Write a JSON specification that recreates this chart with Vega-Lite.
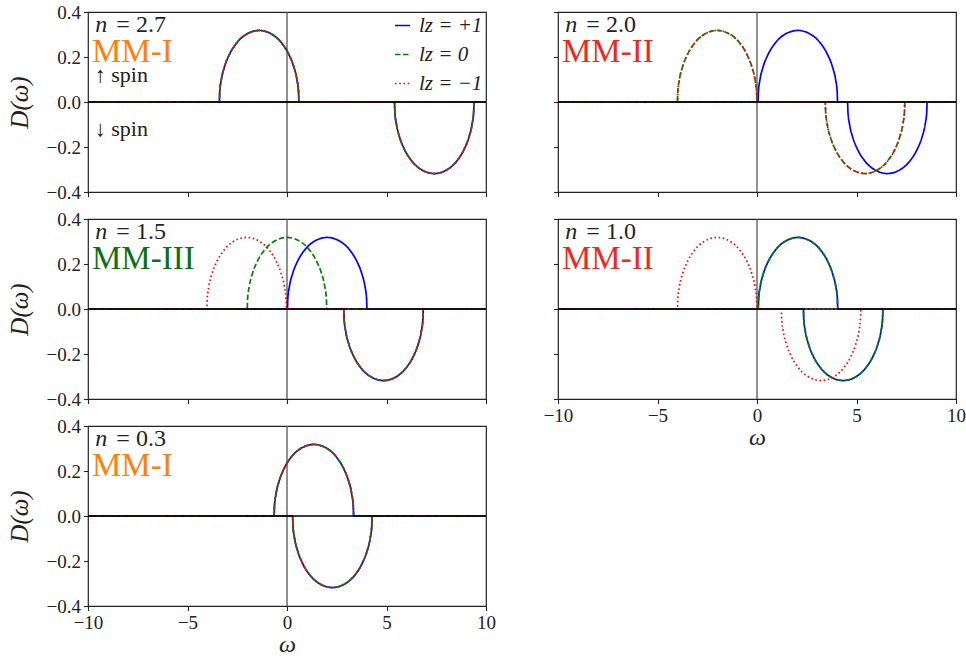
{
  "$schema": "https://vega.github.io/schema/vega-lite/v6.json",
  "background": "white",
  "padding": {"left": 6, "top": 2, "right": 2, "bottom": 0},
  "config": {
    "font": "Liberation Serif",
    "view": {"stroke": "#222222", "strokeWidth": 1.2},
    "axis": {
      "domain": false, "grid": false,
      "tickColor": "#222222", "tickSize": 4.5, "tickWidth": 1.1,
      "labelFont": "Liberation Serif", "labelFontSize": 19, "labelColor": "#222222", "labelPadding": 3,
      "titleFont": "Liberation Serif", "titleFontSize": 25, "titleFontWeight": "normal", "titleFontStyle": "italic", "titleColor": "#222222"
    },
    "axisX": {"titlePadding": 0, "titleFontSize": 24, "labelFlush": false, "labelOverlap": false},
    "axisY": {"titlePadding": 14, "labelOverlap": false}
  },
  "datasets": {
    "notes": [
      {"p": 1, "eq": "= 2.7", "phase": "MM-I"},
      {"p": 2, "eq": "= 2.0", "phase": "MM-II"},
      {"p": 3, "eq": "= 1.5", "phase": "MM-III"},
      {"p": 4, "eq": "= 1.0", "phase": "MM-II"},
      {"p": 5, "eq": "= 0.3", "phase": "MM-I"}
    ],
    "curves": [
      {"p":1,"lz":"+1","s":"u","x":-10,"y":0},{"p":1,"lz":"+1","s":"u","x":-3.4,"y":0},{"p":1,"lz":"+1","s":"u","x":-3.38,"y":0.0449},{"p":1,"lz":"+1","s":"u","x":-3.3,"y":0.0993},{"p":1,"lz":"+1","s":"u","x":-3.14,"y":0.1568},{"p":1,"lz":"+1","s":"u","x":-2.9,"y":0.2103},{"p":1,"lz":"+1","s":"u","x":-2.56,"y":0.2591},{"p":1,"lz":"+1","s":"u","x":-2.12,"y":0.2967},{"p":1,"lz":"+1","s":"u","x":-1.4,"y":0.318},{"p":1,"lz":"+1","s":"u","x":-0.68,"y":0.2967},{"p":1,"lz":"+1","s":"u","x":-0.24,"y":0.2591},{"p":1,"lz":"+1","s":"u","x":0.1,"y":0.2103},{"p":1,"lz":"+1","s":"u","x":0.34,"y":0.1568},{"p":1,"lz":"+1","s":"u","x":0.5,"y":0.0993},{"p":1,"lz":"+1","s":"u","x":0.58,"y":0.0449},{"p":1,"lz":"+1","s":"u","x":0.6,"y":0},{"p":1,"lz":"+1","s":"u","x":10,"y":0},
      {"p":1,"lz":"+1","s":"d","x":-10,"y":0},{"p":1,"lz":"+1","s":"d","x":5.4,"y":0},{"p":1,"lz":"+1","s":"d","x":5.42,"y":-0.0449},{"p":1,"lz":"+1","s":"d","x":5.5,"y":-0.0993},{"p":1,"lz":"+1","s":"d","x":5.66,"y":-0.1568},{"p":1,"lz":"+1","s":"d","x":5.9,"y":-0.2103},{"p":1,"lz":"+1","s":"d","x":6.24,"y":-0.2591},{"p":1,"lz":"+1","s":"d","x":6.68,"y":-0.2967},{"p":1,"lz":"+1","s":"d","x":7.4,"y":-0.318},{"p":1,"lz":"+1","s":"d","x":8.12,"y":-0.2967},{"p":1,"lz":"+1","s":"d","x":8.56,"y":-0.2591},{"p":1,"lz":"+1","s":"d","x":8.9,"y":-0.2103},{"p":1,"lz":"+1","s":"d","x":9.14,"y":-0.1568},{"p":1,"lz":"+1","s":"d","x":9.3,"y":-0.0993},{"p":1,"lz":"+1","s":"d","x":9.38,"y":-0.0449},{"p":1,"lz":"+1","s":"d","x":9.4,"y":0},{"p":1,"lz":"+1","s":"d","x":10,"y":0},
      {"p":1,"lz":"0","s":"u","x":-10,"y":0},{"p":1,"lz":"0","s":"u","x":-3.4,"y":0},{"p":1,"lz":"0","s":"u","x":-3.38,"y":0.0449},{"p":1,"lz":"0","s":"u","x":-3.3,"y":0.0993},{"p":1,"lz":"0","s":"u","x":-3.14,"y":0.1568},{"p":1,"lz":"0","s":"u","x":-2.9,"y":0.2103},{"p":1,"lz":"0","s":"u","x":-2.56,"y":0.2591},{"p":1,"lz":"0","s":"u","x":-2.12,"y":0.2967},{"p":1,"lz":"0","s":"u","x":-1.4,"y":0.318},{"p":1,"lz":"0","s":"u","x":-0.68,"y":0.2967},{"p":1,"lz":"0","s":"u","x":-0.24,"y":0.2591},{"p":1,"lz":"0","s":"u","x":0.1,"y":0.2103},{"p":1,"lz":"0","s":"u","x":0.34,"y":0.1568},{"p":1,"lz":"0","s":"u","x":0.5,"y":0.0993},{"p":1,"lz":"0","s":"u","x":0.58,"y":0.0449},{"p":1,"lz":"0","s":"u","x":0.6,"y":0},{"p":1,"lz":"0","s":"u","x":10,"y":0},
      {"p":1,"lz":"0","s":"d","x":-10,"y":0},{"p":1,"lz":"0","s":"d","x":5.4,"y":0},{"p":1,"lz":"0","s":"d","x":5.42,"y":-0.0449},{"p":1,"lz":"0","s":"d","x":5.5,"y":-0.0993},{"p":1,"lz":"0","s":"d","x":5.66,"y":-0.1568},{"p":1,"lz":"0","s":"d","x":5.9,"y":-0.2103},{"p":1,"lz":"0","s":"d","x":6.24,"y":-0.2591},{"p":1,"lz":"0","s":"d","x":6.68,"y":-0.2967},{"p":1,"lz":"0","s":"d","x":7.4,"y":-0.318},{"p":1,"lz":"0","s":"d","x":8.12,"y":-0.2967},{"p":1,"lz":"0","s":"d","x":8.56,"y":-0.2591},{"p":1,"lz":"0","s":"d","x":8.9,"y":-0.2103},{"p":1,"lz":"0","s":"d","x":9.14,"y":-0.1568},{"p":1,"lz":"0","s":"d","x":9.3,"y":-0.0993},{"p":1,"lz":"0","s":"d","x":9.38,"y":-0.0449},{"p":1,"lz":"0","s":"d","x":9.4,"y":0},{"p":1,"lz":"0","s":"d","x":10,"y":0},
      {"p":1,"lz":"−1","s":"u","x":-10,"y":0},{"p":1,"lz":"−1","s":"u","x":-3.4,"y":0},{"p":1,"lz":"−1","s":"u","x":-3.38,"y":0.0449},{"p":1,"lz":"−1","s":"u","x":-3.3,"y":0.0993},{"p":1,"lz":"−1","s":"u","x":-3.14,"y":0.1568},{"p":1,"lz":"−1","s":"u","x":-2.9,"y":0.2103},{"p":1,"lz":"−1","s":"u","x":-2.56,"y":0.2591},{"p":1,"lz":"−1","s":"u","x":-2.12,"y":0.2967},{"p":1,"lz":"−1","s":"u","x":-1.4,"y":0.318},{"p":1,"lz":"−1","s":"u","x":-0.68,"y":0.2967},{"p":1,"lz":"−1","s":"u","x":-0.24,"y":0.2591},{"p":1,"lz":"−1","s":"u","x":0.1,"y":0.2103},{"p":1,"lz":"−1","s":"u","x":0.34,"y":0.1568},{"p":1,"lz":"−1","s":"u","x":0.5,"y":0.0993},{"p":1,"lz":"−1","s":"u","x":0.58,"y":0.0449},{"p":1,"lz":"−1","s":"u","x":0.6,"y":0},{"p":1,"lz":"−1","s":"u","x":10,"y":0},
      {"p":1,"lz":"−1","s":"d","x":-10,"y":0},{"p":1,"lz":"−1","s":"d","x":5.4,"y":0},{"p":1,"lz":"−1","s":"d","x":5.42,"y":-0.0449},{"p":1,"lz":"−1","s":"d","x":5.5,"y":-0.0993},{"p":1,"lz":"−1","s":"d","x":5.66,"y":-0.1568},{"p":1,"lz":"−1","s":"d","x":5.9,"y":-0.2103},{"p":1,"lz":"−1","s":"d","x":6.24,"y":-0.2591},{"p":1,"lz":"−1","s":"d","x":6.68,"y":-0.2967},{"p":1,"lz":"−1","s":"d","x":7.4,"y":-0.318},{"p":1,"lz":"−1","s":"d","x":8.12,"y":-0.2967},{"p":1,"lz":"−1","s":"d","x":8.56,"y":-0.2591},{"p":1,"lz":"−1","s":"d","x":8.9,"y":-0.2103},{"p":1,"lz":"−1","s":"d","x":9.14,"y":-0.1568},{"p":1,"lz":"−1","s":"d","x":9.3,"y":-0.0993},{"p":1,"lz":"−1","s":"d","x":9.38,"y":-0.0449},{"p":1,"lz":"−1","s":"d","x":9.4,"y":0},{"p":1,"lz":"−1","s":"d","x":10,"y":0},

      {"p":2,"lz":"+1","s":"u","x":-10,"y":0},{"p":2,"lz":"+1","s":"u","x":0.05,"y":0},{"p":2,"lz":"+1","s":"u","x":0.07,"y":0.0449},{"p":2,"lz":"+1","s":"u","x":0.15,"y":0.0993},{"p":2,"lz":"+1","s":"u","x":0.31,"y":0.1568},{"p":2,"lz":"+1","s":"u","x":0.55,"y":0.2103},{"p":2,"lz":"+1","s":"u","x":0.89,"y":0.2591},{"p":2,"lz":"+1","s":"u","x":1.33,"y":0.2967},{"p":2,"lz":"+1","s":"u","x":2.05,"y":0.318},{"p":2,"lz":"+1","s":"u","x":2.77,"y":0.2967},{"p":2,"lz":"+1","s":"u","x":3.21,"y":0.2591},{"p":2,"lz":"+1","s":"u","x":3.55,"y":0.2103},{"p":2,"lz":"+1","s":"u","x":3.79,"y":0.1568},{"p":2,"lz":"+1","s":"u","x":3.95,"y":0.0993},{"p":2,"lz":"+1","s":"u","x":4.03,"y":0.0449},{"p":2,"lz":"+1","s":"u","x":4.05,"y":0},{"p":2,"lz":"+1","s":"u","x":10,"y":0},
      {"p":2,"lz":"+1","s":"d","x":-10,"y":0},{"p":2,"lz":"+1","s":"d","x":4.55,"y":0},{"p":2,"lz":"+1","s":"d","x":4.57,"y":-0.0449},{"p":2,"lz":"+1","s":"d","x":4.65,"y":-0.0993},{"p":2,"lz":"+1","s":"d","x":4.81,"y":-0.1568},{"p":2,"lz":"+1","s":"d","x":5.05,"y":-0.2103},{"p":2,"lz":"+1","s":"d","x":5.39,"y":-0.2591},{"p":2,"lz":"+1","s":"d","x":5.83,"y":-0.2967},{"p":2,"lz":"+1","s":"d","x":6.55,"y":-0.318},{"p":2,"lz":"+1","s":"d","x":7.27,"y":-0.2967},{"p":2,"lz":"+1","s":"d","x":7.71,"y":-0.2591},{"p":2,"lz":"+1","s":"d","x":8.05,"y":-0.2103},{"p":2,"lz":"+1","s":"d","x":8.29,"y":-0.1568},{"p":2,"lz":"+1","s":"d","x":8.45,"y":-0.0993},{"p":2,"lz":"+1","s":"d","x":8.53,"y":-0.0449},{"p":2,"lz":"+1","s":"d","x":8.55,"y":0},{"p":2,"lz":"+1","s":"d","x":10,"y":0},
      {"p":2,"lz":"0","s":"u","x":-10,"y":0},{"p":2,"lz":"0","s":"u","x":-4,"y":0},{"p":2,"lz":"0","s":"u","x":-3.98,"y":0.0449},{"p":2,"lz":"0","s":"u","x":-3.9,"y":0.0993},{"p":2,"lz":"0","s":"u","x":-3.74,"y":0.1568},{"p":2,"lz":"0","s":"u","x":-3.5,"y":0.2103},{"p":2,"lz":"0","s":"u","x":-3.16,"y":0.2591},{"p":2,"lz":"0","s":"u","x":-2.72,"y":0.2967},{"p":2,"lz":"0","s":"u","x":-2,"y":0.318},{"p":2,"lz":"0","s":"u","x":-1.28,"y":0.2967},{"p":2,"lz":"0","s":"u","x":-0.84,"y":0.2591},{"p":2,"lz":"0","s":"u","x":-0.5,"y":0.2103},{"p":2,"lz":"0","s":"u","x":-0.26,"y":0.1568},{"p":2,"lz":"0","s":"u","x":-0.1,"y":0.0993},{"p":2,"lz":"0","s":"u","x":-0.02,"y":0.0449},{"p":2,"lz":"0","s":"u","x":0,"y":0},{"p":2,"lz":"0","s":"u","x":10,"y":0},
      {"p":2,"lz":"0","s":"d","x":-10,"y":0},{"p":2,"lz":"0","s":"d","x":3.43,"y":0},{"p":2,"lz":"0","s":"d","x":3.45,"y":-0.0449},{"p":2,"lz":"0","s":"d","x":3.53,"y":-0.0993},{"p":2,"lz":"0","s":"d","x":3.69,"y":-0.1568},{"p":2,"lz":"0","s":"d","x":3.93,"y":-0.2103},{"p":2,"lz":"0","s":"d","x":4.27,"y":-0.2591},{"p":2,"lz":"0","s":"d","x":4.71,"y":-0.2967},{"p":2,"lz":"0","s":"d","x":5.43,"y":-0.318},{"p":2,"lz":"0","s":"d","x":6.15,"y":-0.2967},{"p":2,"lz":"0","s":"d","x":6.59,"y":-0.2591},{"p":2,"lz":"0","s":"d","x":6.93,"y":-0.2103},{"p":2,"lz":"0","s":"d","x":7.17,"y":-0.1568},{"p":2,"lz":"0","s":"d","x":7.33,"y":-0.0993},{"p":2,"lz":"0","s":"d","x":7.41,"y":-0.0449},{"p":2,"lz":"0","s":"d","x":7.43,"y":0},{"p":2,"lz":"0","s":"d","x":10,"y":0},
      {"p":2,"lz":"−1","s":"u","x":-10,"y":0},{"p":2,"lz":"−1","s":"u","x":-4,"y":0},{"p":2,"lz":"−1","s":"u","x":-3.98,"y":0.0449},{"p":2,"lz":"−1","s":"u","x":-3.9,"y":0.0993},{"p":2,"lz":"−1","s":"u","x":-3.74,"y":0.1568},{"p":2,"lz":"−1","s":"u","x":-3.5,"y":0.2103},{"p":2,"lz":"−1","s":"u","x":-3.16,"y":0.2591},{"p":2,"lz":"−1","s":"u","x":-2.72,"y":0.2967},{"p":2,"lz":"−1","s":"u","x":-2,"y":0.318},{"p":2,"lz":"−1","s":"u","x":-1.28,"y":0.2967},{"p":2,"lz":"−1","s":"u","x":-0.84,"y":0.2591},{"p":2,"lz":"−1","s":"u","x":-0.5,"y":0.2103},{"p":2,"lz":"−1","s":"u","x":-0.26,"y":0.1568},{"p":2,"lz":"−1","s":"u","x":-0.1,"y":0.0993},{"p":2,"lz":"−1","s":"u","x":-0.02,"y":0.0449},{"p":2,"lz":"−1","s":"u","x":0,"y":0},{"p":2,"lz":"−1","s":"u","x":10,"y":0},
      {"p":2,"lz":"−1","s":"d","x":-10,"y":0},{"p":2,"lz":"−1","s":"d","x":3.43,"y":0},{"p":2,"lz":"−1","s":"d","x":3.45,"y":-0.0449},{"p":2,"lz":"−1","s":"d","x":3.53,"y":-0.0993},{"p":2,"lz":"−1","s":"d","x":3.69,"y":-0.1568},{"p":2,"lz":"−1","s":"d","x":3.93,"y":-0.2103},{"p":2,"lz":"−1","s":"d","x":4.27,"y":-0.2591},{"p":2,"lz":"−1","s":"d","x":4.71,"y":-0.2967},{"p":2,"lz":"−1","s":"d","x":5.43,"y":-0.318},{"p":2,"lz":"−1","s":"d","x":6.15,"y":-0.2967},{"p":2,"lz":"−1","s":"d","x":6.59,"y":-0.2591},{"p":2,"lz":"−1","s":"d","x":6.93,"y":-0.2103},{"p":2,"lz":"−1","s":"d","x":7.17,"y":-0.1568},{"p":2,"lz":"−1","s":"d","x":7.33,"y":-0.0993},{"p":2,"lz":"−1","s":"d","x":7.41,"y":-0.0449},{"p":2,"lz":"−1","s":"d","x":7.43,"y":0},{"p":2,"lz":"−1","s":"d","x":10,"y":0},

      {"p":3,"lz":"+1","s":"u","x":-10,"y":0},{"p":3,"lz":"+1","s":"u","x":0.02,"y":0},{"p":3,"lz":"+1","s":"u","x":0.04,"y":0.0449},{"p":3,"lz":"+1","s":"u","x":0.12,"y":0.0993},{"p":3,"lz":"+1","s":"u","x":0.28,"y":0.1568},{"p":3,"lz":"+1","s":"u","x":0.52,"y":0.2103},{"p":3,"lz":"+1","s":"u","x":0.86,"y":0.2591},{"p":3,"lz":"+1","s":"u","x":1.3,"y":0.2967},{"p":3,"lz":"+1","s":"u","x":2.02,"y":0.318},{"p":3,"lz":"+1","s":"u","x":2.74,"y":0.2967},{"p":3,"lz":"+1","s":"u","x":3.18,"y":0.2591},{"p":3,"lz":"+1","s":"u","x":3.52,"y":0.2103},{"p":3,"lz":"+1","s":"u","x":3.76,"y":0.1568},{"p":3,"lz":"+1","s":"u","x":3.92,"y":0.0993},{"p":3,"lz":"+1","s":"u","x":4,"y":0.0449},{"p":3,"lz":"+1","s":"u","x":4.02,"y":0},{"p":3,"lz":"+1","s":"u","x":10,"y":0},
      {"p":3,"lz":"+1","s":"d","x":-10,"y":0},{"p":3,"lz":"+1","s":"d","x":2.85,"y":0},{"p":3,"lz":"+1","s":"d","x":2.87,"y":-0.0449},{"p":3,"lz":"+1","s":"d","x":2.95,"y":-0.0993},{"p":3,"lz":"+1","s":"d","x":3.11,"y":-0.1568},{"p":3,"lz":"+1","s":"d","x":3.35,"y":-0.2103},{"p":3,"lz":"+1","s":"d","x":3.69,"y":-0.2591},{"p":3,"lz":"+1","s":"d","x":4.13,"y":-0.2967},{"p":3,"lz":"+1","s":"d","x":4.85,"y":-0.318},{"p":3,"lz":"+1","s":"d","x":5.57,"y":-0.2967},{"p":3,"lz":"+1","s":"d","x":6.01,"y":-0.2591},{"p":3,"lz":"+1","s":"d","x":6.35,"y":-0.2103},{"p":3,"lz":"+1","s":"d","x":6.59,"y":-0.1568},{"p":3,"lz":"+1","s":"d","x":6.75,"y":-0.0993},{"p":3,"lz":"+1","s":"d","x":6.83,"y":-0.0449},{"p":3,"lz":"+1","s":"d","x":6.85,"y":0},{"p":3,"lz":"+1","s":"d","x":10,"y":0},
      {"p":3,"lz":"0","s":"u","x":-10,"y":0},{"p":3,"lz":"0","s":"u","x":-2,"y":0},{"p":3,"lz":"0","s":"u","x":-1.98,"y":0.0449},{"p":3,"lz":"0","s":"u","x":-1.9,"y":0.0993},{"p":3,"lz":"0","s":"u","x":-1.74,"y":0.1568},{"p":3,"lz":"0","s":"u","x":-1.5,"y":0.2103},{"p":3,"lz":"0","s":"u","x":-1.16,"y":0.2591},{"p":3,"lz":"0","s":"u","x":-0.72,"y":0.2967},{"p":3,"lz":"0","s":"u","x":0,"y":0.318},{"p":3,"lz":"0","s":"u","x":0.72,"y":0.2967},{"p":3,"lz":"0","s":"u","x":1.16,"y":0.2591},{"p":3,"lz":"0","s":"u","x":1.5,"y":0.2103},{"p":3,"lz":"0","s":"u","x":1.74,"y":0.1568},{"p":3,"lz":"0","s":"u","x":1.9,"y":0.0993},{"p":3,"lz":"0","s":"u","x":1.98,"y":0.0449},{"p":3,"lz":"0","s":"u","x":2,"y":0},{"p":3,"lz":"0","s":"u","x":10,"y":0},
      {"p":3,"lz":"0","s":"d","x":-10,"y":0},{"p":3,"lz":"0","s":"d","x":2.85,"y":0},{"p":3,"lz":"0","s":"d","x":2.87,"y":-0.0449},{"p":3,"lz":"0","s":"d","x":2.95,"y":-0.0993},{"p":3,"lz":"0","s":"d","x":3.11,"y":-0.1568},{"p":3,"lz":"0","s":"d","x":3.35,"y":-0.2103},{"p":3,"lz":"0","s":"d","x":3.69,"y":-0.2591},{"p":3,"lz":"0","s":"d","x":4.13,"y":-0.2967},{"p":3,"lz":"0","s":"d","x":4.85,"y":-0.318},{"p":3,"lz":"0","s":"d","x":5.57,"y":-0.2967},{"p":3,"lz":"0","s":"d","x":6.01,"y":-0.2591},{"p":3,"lz":"0","s":"d","x":6.35,"y":-0.2103},{"p":3,"lz":"0","s":"d","x":6.59,"y":-0.1568},{"p":3,"lz":"0","s":"d","x":6.75,"y":-0.0993},{"p":3,"lz":"0","s":"d","x":6.83,"y":-0.0449},{"p":3,"lz":"0","s":"d","x":6.85,"y":0},{"p":3,"lz":"0","s":"d","x":10,"y":0},
      {"p":3,"lz":"−1","s":"u","x":-10,"y":0},{"p":3,"lz":"−1","s":"u","x":-4.03,"y":0},{"p":3,"lz":"−1","s":"u","x":-4.01,"y":0.0449},{"p":3,"lz":"−1","s":"u","x":-3.93,"y":0.0993},{"p":3,"lz":"−1","s":"u","x":-3.77,"y":0.1568},{"p":3,"lz":"−1","s":"u","x":-3.53,"y":0.2103},{"p":3,"lz":"−1","s":"u","x":-3.19,"y":0.2591},{"p":3,"lz":"−1","s":"u","x":-2.75,"y":0.2967},{"p":3,"lz":"−1","s":"u","x":-2.03,"y":0.318},{"p":3,"lz":"−1","s":"u","x":-1.31,"y":0.2967},{"p":3,"lz":"−1","s":"u","x":-0.87,"y":0.2591},{"p":3,"lz":"−1","s":"u","x":-0.53,"y":0.2103},{"p":3,"lz":"−1","s":"u","x":-0.29,"y":0.1568},{"p":3,"lz":"−1","s":"u","x":-0.13,"y":0.0993},{"p":3,"lz":"−1","s":"u","x":-0.05,"y":0.0449},{"p":3,"lz":"−1","s":"u","x":-0.03,"y":0},{"p":3,"lz":"−1","s":"u","x":10,"y":0},
      {"p":3,"lz":"−1","s":"d","x":-10,"y":0},{"p":3,"lz":"−1","s":"d","x":2.85,"y":0},{"p":3,"lz":"−1","s":"d","x":2.87,"y":-0.0449},{"p":3,"lz":"−1","s":"d","x":2.95,"y":-0.0993},{"p":3,"lz":"−1","s":"d","x":3.11,"y":-0.1568},{"p":3,"lz":"−1","s":"d","x":3.35,"y":-0.2103},{"p":3,"lz":"−1","s":"d","x":3.69,"y":-0.2591},{"p":3,"lz":"−1","s":"d","x":4.13,"y":-0.2967},{"p":3,"lz":"−1","s":"d","x":4.85,"y":-0.318},{"p":3,"lz":"−1","s":"d","x":5.57,"y":-0.2967},{"p":3,"lz":"−1","s":"d","x":6.01,"y":-0.2591},{"p":3,"lz":"−1","s":"d","x":6.35,"y":-0.2103},{"p":3,"lz":"−1","s":"d","x":6.59,"y":-0.1568},{"p":3,"lz":"−1","s":"d","x":6.75,"y":-0.0993},{"p":3,"lz":"−1","s":"d","x":6.83,"y":-0.0449},{"p":3,"lz":"−1","s":"d","x":6.85,"y":0},{"p":3,"lz":"−1","s":"d","x":10,"y":0},

      {"p":4,"lz":"+1","s":"u","x":-10,"y":0},{"p":4,"lz":"+1","s":"u","x":0.06,"y":0},{"p":4,"lz":"+1","s":"u","x":0.08,"y":0.0449},{"p":4,"lz":"+1","s":"u","x":0.16,"y":0.0993},{"p":4,"lz":"+1","s":"u","x":0.32,"y":0.1568},{"p":4,"lz":"+1","s":"u","x":0.56,"y":0.2103},{"p":4,"lz":"+1","s":"u","x":0.9,"y":0.2591},{"p":4,"lz":"+1","s":"u","x":1.34,"y":0.2967},{"p":4,"lz":"+1","s":"u","x":2.06,"y":0.318},{"p":4,"lz":"+1","s":"u","x":2.78,"y":0.2967},{"p":4,"lz":"+1","s":"u","x":3.22,"y":0.2591},{"p":4,"lz":"+1","s":"u","x":3.56,"y":0.2103},{"p":4,"lz":"+1","s":"u","x":3.8,"y":0.1568},{"p":4,"lz":"+1","s":"u","x":3.96,"y":0.0993},{"p":4,"lz":"+1","s":"u","x":4.04,"y":0.0449},{"p":4,"lz":"+1","s":"u","x":4.06,"y":0},{"p":4,"lz":"+1","s":"u","x":10,"y":0},
      {"p":4,"lz":"+1","s":"d","x":-10,"y":0},{"p":4,"lz":"+1","s":"d","x":2.33,"y":0},{"p":4,"lz":"+1","s":"d","x":2.35,"y":-0.0449},{"p":4,"lz":"+1","s":"d","x":2.43,"y":-0.0993},{"p":4,"lz":"+1","s":"d","x":2.59,"y":-0.1568},{"p":4,"lz":"+1","s":"d","x":2.83,"y":-0.2103},{"p":4,"lz":"+1","s":"d","x":3.17,"y":-0.2591},{"p":4,"lz":"+1","s":"d","x":3.61,"y":-0.2967},{"p":4,"lz":"+1","s":"d","x":4.33,"y":-0.318},{"p":4,"lz":"+1","s":"d","x":5.05,"y":-0.2967},{"p":4,"lz":"+1","s":"d","x":5.49,"y":-0.2591},{"p":4,"lz":"+1","s":"d","x":5.83,"y":-0.2103},{"p":4,"lz":"+1","s":"d","x":6.07,"y":-0.1568},{"p":4,"lz":"+1","s":"d","x":6.23,"y":-0.0993},{"p":4,"lz":"+1","s":"d","x":6.31,"y":-0.0449},{"p":4,"lz":"+1","s":"d","x":6.33,"y":0},{"p":4,"lz":"+1","s":"d","x":10,"y":0},
      {"p":4,"lz":"0","s":"u","x":-10,"y":0},{"p":4,"lz":"0","s":"u","x":0.06,"y":0},{"p":4,"lz":"0","s":"u","x":0.08,"y":0.0449},{"p":4,"lz":"0","s":"u","x":0.16,"y":0.0993},{"p":4,"lz":"0","s":"u","x":0.32,"y":0.1568},{"p":4,"lz":"0","s":"u","x":0.56,"y":0.2103},{"p":4,"lz":"0","s":"u","x":0.9,"y":0.2591},{"p":4,"lz":"0","s":"u","x":1.34,"y":0.2967},{"p":4,"lz":"0","s":"u","x":2.06,"y":0.318},{"p":4,"lz":"0","s":"u","x":2.78,"y":0.2967},{"p":4,"lz":"0","s":"u","x":3.22,"y":0.2591},{"p":4,"lz":"0","s":"u","x":3.56,"y":0.2103},{"p":4,"lz":"0","s":"u","x":3.8,"y":0.1568},{"p":4,"lz":"0","s":"u","x":3.96,"y":0.0993},{"p":4,"lz":"0","s":"u","x":4.04,"y":0.0449},{"p":4,"lz":"0","s":"u","x":4.06,"y":0},{"p":4,"lz":"0","s":"u","x":10,"y":0},
      {"p":4,"lz":"0","s":"d","x":-10,"y":0},{"p":4,"lz":"0","s":"d","x":2.33,"y":0},{"p":4,"lz":"0","s":"d","x":2.35,"y":-0.0449},{"p":4,"lz":"0","s":"d","x":2.43,"y":-0.0993},{"p":4,"lz":"0","s":"d","x":2.59,"y":-0.1568},{"p":4,"lz":"0","s":"d","x":2.83,"y":-0.2103},{"p":4,"lz":"0","s":"d","x":3.17,"y":-0.2591},{"p":4,"lz":"0","s":"d","x":3.61,"y":-0.2967},{"p":4,"lz":"0","s":"d","x":4.33,"y":-0.318},{"p":4,"lz":"0","s":"d","x":5.05,"y":-0.2967},{"p":4,"lz":"0","s":"d","x":5.49,"y":-0.2591},{"p":4,"lz":"0","s":"d","x":5.83,"y":-0.2103},{"p":4,"lz":"0","s":"d","x":6.07,"y":-0.1568},{"p":4,"lz":"0","s":"d","x":6.23,"y":-0.0993},{"p":4,"lz":"0","s":"d","x":6.31,"y":-0.0449},{"p":4,"lz":"0","s":"d","x":6.33,"y":0},{"p":4,"lz":"0","s":"d","x":10,"y":0},
      {"p":4,"lz":"−1","s":"u","x":-10,"y":0},{"p":4,"lz":"−1","s":"u","x":-4,"y":0},{"p":4,"lz":"−1","s":"u","x":-3.98,"y":0.0449},{"p":4,"lz":"−1","s":"u","x":-3.9,"y":0.0993},{"p":4,"lz":"−1","s":"u","x":-3.74,"y":0.1568},{"p":4,"lz":"−1","s":"u","x":-3.5,"y":0.2103},{"p":4,"lz":"−1","s":"u","x":-3.16,"y":0.2591},{"p":4,"lz":"−1","s":"u","x":-2.72,"y":0.2967},{"p":4,"lz":"−1","s":"u","x":-2,"y":0.318},{"p":4,"lz":"−1","s":"u","x":-1.28,"y":0.2967},{"p":4,"lz":"−1","s":"u","x":-0.84,"y":0.2591},{"p":4,"lz":"−1","s":"u","x":-0.5,"y":0.2103},{"p":4,"lz":"−1","s":"u","x":-0.26,"y":0.1568},{"p":4,"lz":"−1","s":"u","x":-0.1,"y":0.0993},{"p":4,"lz":"−1","s":"u","x":-0.02,"y":0.0449},{"p":4,"lz":"−1","s":"u","x":0,"y":0},{"p":4,"lz":"−1","s":"u","x":10,"y":0},
      {"p":4,"lz":"−1","s":"d","x":-10,"y":0},{"p":4,"lz":"−1","s":"d","x":1.22,"y":0},{"p":4,"lz":"−1","s":"d","x":1.24,"y":-0.0449},{"p":4,"lz":"−1","s":"d","x":1.32,"y":-0.0993},{"p":4,"lz":"−1","s":"d","x":1.48,"y":-0.1568},{"p":4,"lz":"−1","s":"d","x":1.72,"y":-0.2103},{"p":4,"lz":"−1","s":"d","x":2.06,"y":-0.2591},{"p":4,"lz":"−1","s":"d","x":2.5,"y":-0.2967},{"p":4,"lz":"−1","s":"d","x":3.22,"y":-0.318},{"p":4,"lz":"−1","s":"d","x":3.94,"y":-0.2967},{"p":4,"lz":"−1","s":"d","x":4.38,"y":-0.2591},{"p":4,"lz":"−1","s":"d","x":4.72,"y":-0.2103},{"p":4,"lz":"−1","s":"d","x":4.96,"y":-0.1568},{"p":4,"lz":"−1","s":"d","x":5.12,"y":-0.0993},{"p":4,"lz":"−1","s":"d","x":5.2,"y":-0.0449},{"p":4,"lz":"−1","s":"d","x":5.22,"y":0},{"p":4,"lz":"−1","s":"d","x":10,"y":0},

      {"p":5,"lz":"+1","s":"u","x":-10,"y":0},{"p":5,"lz":"+1","s":"u","x":-0.65,"y":0},{"p":5,"lz":"+1","s":"u","x":-0.63,"y":0.0449},{"p":5,"lz":"+1","s":"u","x":-0.55,"y":0.0993},{"p":5,"lz":"+1","s":"u","x":-0.39,"y":0.1568},{"p":5,"lz":"+1","s":"u","x":-0.15,"y":0.2103},{"p":5,"lz":"+1","s":"u","x":0.19,"y":0.2591},{"p":5,"lz":"+1","s":"u","x":0.63,"y":0.2967},{"p":5,"lz":"+1","s":"u","x":1.35,"y":0.318},{"p":5,"lz":"+1","s":"u","x":2.07,"y":0.2967},{"p":5,"lz":"+1","s":"u","x":2.51,"y":0.2591},{"p":5,"lz":"+1","s":"u","x":2.85,"y":0.2103},{"p":5,"lz":"+1","s":"u","x":3.09,"y":0.1568},{"p":5,"lz":"+1","s":"u","x":3.25,"y":0.0993},{"p":5,"lz":"+1","s":"u","x":3.33,"y":0.0449},{"p":5,"lz":"+1","s":"u","x":3.35,"y":0},{"p":5,"lz":"+1","s":"u","x":10,"y":0},
      {"p":5,"lz":"+1","s":"d","x":-10,"y":0},{"p":5,"lz":"+1","s":"d","x":0.28,"y":0},{"p":5,"lz":"+1","s":"d","x":0.3,"y":-0.0449},{"p":5,"lz":"+1","s":"d","x":0.38,"y":-0.0993},{"p":5,"lz":"+1","s":"d","x":0.54,"y":-0.1568},{"p":5,"lz":"+1","s":"d","x":0.78,"y":-0.2103},{"p":5,"lz":"+1","s":"d","x":1.12,"y":-0.2591},{"p":5,"lz":"+1","s":"d","x":1.56,"y":-0.2967},{"p":5,"lz":"+1","s":"d","x":2.28,"y":-0.318},{"p":5,"lz":"+1","s":"d","x":3,"y":-0.2967},{"p":5,"lz":"+1","s":"d","x":3.44,"y":-0.2591},{"p":5,"lz":"+1","s":"d","x":3.78,"y":-0.2103},{"p":5,"lz":"+1","s":"d","x":4.02,"y":-0.1568},{"p":5,"lz":"+1","s":"d","x":4.18,"y":-0.0993},{"p":5,"lz":"+1","s":"d","x":4.26,"y":-0.0449},{"p":5,"lz":"+1","s":"d","x":4.28,"y":0},{"p":5,"lz":"+1","s":"d","x":10,"y":0},
      {"p":5,"lz":"0","s":"u","x":-10,"y":0},{"p":5,"lz":"0","s":"u","x":-0.65,"y":0},{"p":5,"lz":"0","s":"u","x":-0.63,"y":0.0449},{"p":5,"lz":"0","s":"u","x":-0.55,"y":0.0993},{"p":5,"lz":"0","s":"u","x":-0.39,"y":0.1568},{"p":5,"lz":"0","s":"u","x":-0.15,"y":0.2103},{"p":5,"lz":"0","s":"u","x":0.19,"y":0.2591},{"p":5,"lz":"0","s":"u","x":0.63,"y":0.2967},{"p":5,"lz":"0","s":"u","x":1.35,"y":0.318},{"p":5,"lz":"0","s":"u","x":2.07,"y":0.2967},{"p":5,"lz":"0","s":"u","x":2.51,"y":0.2591},{"p":5,"lz":"0","s":"u","x":2.85,"y":0.2103},{"p":5,"lz":"0","s":"u","x":3.09,"y":0.1568},{"p":5,"lz":"0","s":"u","x":3.25,"y":0.0993},{"p":5,"lz":"0","s":"u","x":3.33,"y":0.0449},{"p":5,"lz":"0","s":"u","x":3.35,"y":0},{"p":5,"lz":"0","s":"u","x":10,"y":0},
      {"p":5,"lz":"0","s":"d","x":-10,"y":0},{"p":5,"lz":"0","s":"d","x":0.28,"y":0},{"p":5,"lz":"0","s":"d","x":0.3,"y":-0.0449},{"p":5,"lz":"0","s":"d","x":0.38,"y":-0.0993},{"p":5,"lz":"0","s":"d","x":0.54,"y":-0.1568},{"p":5,"lz":"0","s":"d","x":0.78,"y":-0.2103},{"p":5,"lz":"0","s":"d","x":1.12,"y":-0.2591},{"p":5,"lz":"0","s":"d","x":1.56,"y":-0.2967},{"p":5,"lz":"0","s":"d","x":2.28,"y":-0.318},{"p":5,"lz":"0","s":"d","x":3,"y":-0.2967},{"p":5,"lz":"0","s":"d","x":3.44,"y":-0.2591},{"p":5,"lz":"0","s":"d","x":3.78,"y":-0.2103},{"p":5,"lz":"0","s":"d","x":4.02,"y":-0.1568},{"p":5,"lz":"0","s":"d","x":4.18,"y":-0.0993},{"p":5,"lz":"0","s":"d","x":4.26,"y":-0.0449},{"p":5,"lz":"0","s":"d","x":4.28,"y":0},{"p":5,"lz":"0","s":"d","x":10,"y":0},
      {"p":5,"lz":"−1","s":"u","x":-10,"y":0},{"p":5,"lz":"−1","s":"u","x":-0.65,"y":0},{"p":5,"lz":"−1","s":"u","x":-0.63,"y":0.0449},{"p":5,"lz":"−1","s":"u","x":-0.55,"y":0.0993},{"p":5,"lz":"−1","s":"u","x":-0.39,"y":0.1568},{"p":5,"lz":"−1","s":"u","x":-0.15,"y":0.2103},{"p":5,"lz":"−1","s":"u","x":0.19,"y":0.2591},{"p":5,"lz":"−1","s":"u","x":0.63,"y":0.2967},{"p":5,"lz":"−1","s":"u","x":1.35,"y":0.318},{"p":5,"lz":"−1","s":"u","x":2.07,"y":0.2967},{"p":5,"lz":"−1","s":"u","x":2.51,"y":0.2591},{"p":5,"lz":"−1","s":"u","x":2.85,"y":0.2103},{"p":5,"lz":"−1","s":"u","x":3.09,"y":0.1568},{"p":5,"lz":"−1","s":"u","x":3.25,"y":0.0993},{"p":5,"lz":"−1","s":"u","x":3.33,"y":0.0449},{"p":5,"lz":"−1","s":"u","x":3.35,"y":0},{"p":5,"lz":"−1","s":"u","x":10,"y":0},
      {"p":5,"lz":"−1","s":"d","x":-10,"y":0},{"p":5,"lz":"−1","s":"d","x":0.28,"y":0},{"p":5,"lz":"−1","s":"d","x":0.3,"y":-0.0449},{"p":5,"lz":"−1","s":"d","x":0.38,"y":-0.0993},{"p":5,"lz":"−1","s":"d","x":0.54,"y":-0.1568},{"p":5,"lz":"−1","s":"d","x":0.78,"y":-0.2103},{"p":5,"lz":"−1","s":"d","x":1.12,"y":-0.2591},{"p":5,"lz":"−1","s":"d","x":1.56,"y":-0.2967},{"p":5,"lz":"−1","s":"d","x":2.28,"y":-0.318},{"p":5,"lz":"−1","s":"d","x":3,"y":-0.2967},{"p":5,"lz":"−1","s":"d","x":3.44,"y":-0.2591},{"p":5,"lz":"−1","s":"d","x":3.78,"y":-0.2103},{"p":5,"lz":"−1","s":"d","x":4.02,"y":-0.1568},{"p":5,"lz":"−1","s":"d","x":4.18,"y":-0.0993},{"p":5,"lz":"−1","s":"d","x":4.26,"y":-0.0449},{"p":5,"lz":"−1","s":"d","x":4.28,"y":0},{"p":5,"lz":"−1","s":"d","x":10,"y":0}
    ]
  },
  "columns": 2,
  "spacing": {"row": 27, "column": 72},
  "bounds": "flush",
  "resolve": {"legend": {"color": "independent", "strokeDash": "independent"}},
  "concat": [
    {
      "width": 398, "height": 180,
      "data": {"name": "notes"},
      "transform": [{"filter": "datum.p == 1"}],
      "layer": [
        {"mark": {"type": "rule", "color": "#555555", "strokeWidth": 1.3}, "encoding": {"x": {"datum": 0}}},
        {
          "data": {"name": "curves"},
          "transform": [{"filter": "datum.p == 1"}],
          "mark": {"type": "line", "strokeWidth": 1.7, "interpolate": "monotone", "clip": true},
          "encoding": {
            "x": {"field": "x", "type": "quantitative", "scale": {"domain": [-10, 10], "nice": false, "zero": false}, "axis": {"values": [-10, -5, 0, 5, 10], "labels": false, "title": null}},
            "y": {"field": "y", "type": "quantitative", "scale": {"domain": [-0.4, 0.4], "nice": false}, "axis": {"values": [-0.4, -0.2, 0, 0.2, 0.4], "format": ".1f", "title": "D(ω)"}},
            "color": {"field": "lz", "type": "nominal", "sort": null, "scale": {"domain": ["+1", "0", "−1"], "range": ["#0000ff", "#008000", "#ff0000"]},
              "legend": {"orient": "top-right", "offset": 3, "padding": 0, "title": null, "labelFont": "Liberation Serif", "labelFontSize": 21, "labelFontStyle": "italic", "labelColor": "#222222", "symbolType": "stroke", "symbolSize": 225, "symbolStrokeWidth": 1.7, "labelOffset": 6, "rowPadding": 7, "labelExpr": "'lz = ' + datum.label"}},
            "strokeDash": {"field": "lz", "type": "nominal", "sort": null, "scale": {"domain": ["+1", "0", "−1"], "range": [[1, 0], [5.5, 2.5], [1.6, 2.6]]},
              "legend": {"orient": "top-right", "offset": 3, "padding": 0, "title": null, "labelFont": "Liberation Serif", "labelFontSize": 21, "labelFontStyle": "italic", "labelColor": "#222222", "symbolType": "stroke", "symbolSize": 225, "symbolStrokeWidth": 1.7, "labelOffset": 6, "rowPadding": 7, "labelExpr": "'lz = ' + datum.label"}},
            "detail": {"field": "s"}
          }
        },
        {"mark": {"type": "rule", "color": "#000000", "strokeWidth": 1.4}, "encoding": {"y": {"datum": 0}}},
        {"mark": {"type": "text", "fontSize": 24, "fontStyle": "italic", "align": "left", "baseline": "alphabetic", "color": "#222222"}, "encoding": {"x": {"datum": -9.63}, "y": {"datum": 0.31}, "text": {"value": "n"}}},
        {"mark": {"type": "text", "fontSize": 24, "align": "left", "baseline": "alphabetic", "dx": 21, "color": "#222222"}, "encoding": {"x": {"datum": -9.63}, "y": {"datum": 0.31}, "text": {"field": "eq"}}},
        {"mark": {"type": "text", "fontSize": 33, "align": "left", "baseline": "alphabetic"}, "encoding": {"x": {"datum": -9.8}, "y": {"datum": 0.178}, "text": {"field": "phase"}, "fill": {"field": "phase", "type": "nominal", "scale": {"domain": ["MM-I", "MM-II", "MM-III"], "range": ["#ff7f0e", "#ea2a1e", "#107010"]}, "legend": null}}},
        {"mark": {"type": "text", "fontSize": 22, "align": "left", "baseline": "alphabetic", "color": "#222222"}, "encoding": {"x": {"datum": -9.66}, "y": {"datum": 0.09}, "text": {"value": "↑ spin"}}},
        {"mark": {"type": "text", "fontSize": 22, "align": "left", "baseline": "alphabetic", "color": "#222222"}, "encoding": {"x": {"datum": -9.66}, "y": {"datum": -0.151}, "text": {"value": "↓ spin"}}}
      ]
    },
    {
      "width": 398, "height": 180,
      "data": {"name": "notes"},
      "transform": [{"filter": "datum.p == 2"}],
      "layer": [
        {"mark": {"type": "rule", "color": "#555555", "strokeWidth": 1.3}, "encoding": {"x": {"datum": 0}}},
        {
          "data": {"name": "curves"},
          "transform": [{"filter": "datum.p == 2"}],
          "mark": {"type": "line", "strokeWidth": 1.7, "interpolate": "monotone", "clip": true},
          "encoding": {
            "x": {"field": "x", "type": "quantitative", "scale": {"domain": [-10, 10], "nice": false, "zero": false}, "axis": {"values": [-10, -5, 0, 5, 10], "labels": false, "title": null}},
            "y": {"field": "y", "type": "quantitative", "scale": {"domain": [-0.4, 0.4], "nice": false}, "axis": {"values": [-0.4, -0.2, 0, 0.2, 0.4], "labels": false, "title": null}},
            "color": {"field": "lz", "type": "nominal", "sort": null, "scale": {"domain": ["+1", "0", "−1"], "range": ["#0000ff", "#008000", "#ff0000"]}, "legend": null},
            "strokeDash": {"field": "lz", "type": "nominal", "sort": null, "scale": {"domain": ["+1", "0", "−1"], "range": [[1, 0], [5.5, 2.5], [1.6, 2.6]]}, "legend": null},
            "detail": {"field": "s"}
          }
        },
        {"mark": {"type": "rule", "color": "#000000", "strokeWidth": 1.4}, "encoding": {"y": {"datum": 0}}},
        {"mark": {"type": "text", "fontSize": 24, "fontStyle": "italic", "align": "left", "baseline": "alphabetic", "color": "#222222"}, "encoding": {"x": {"datum": -9.63}, "y": {"datum": 0.31}, "text": {"value": "n"}}},
        {"mark": {"type": "text", "fontSize": 24, "align": "left", "baseline": "alphabetic", "dx": 21, "color": "#222222"}, "encoding": {"x": {"datum": -9.63}, "y": {"datum": 0.31}, "text": {"field": "eq"}}},
        {"mark": {"type": "text", "fontSize": 33, "align": "left", "baseline": "alphabetic"}, "encoding": {"x": {"datum": -9.8}, "y": {"datum": 0.178}, "text": {"field": "phase"}, "fill": {"field": "phase", "type": "nominal", "scale": {"domain": ["MM-I", "MM-II", "MM-III"], "range": ["#ff7f0e", "#ea2a1e", "#107010"]}, "legend": null}}}
      ]
    },
    {
      "width": 398, "height": 180,
      "data": {"name": "notes"},
      "transform": [{"filter": "datum.p == 3"}],
      "layer": [
        {"mark": {"type": "rule", "color": "#555555", "strokeWidth": 1.3}, "encoding": {"x": {"datum": 0}}},
        {
          "data": {"name": "curves"},
          "transform": [{"filter": "datum.p == 3"}],
          "mark": {"type": "line", "strokeWidth": 1.7, "interpolate": "monotone", "clip": true},
          "encoding": {
            "x": {"field": "x", "type": "quantitative", "scale": {"domain": [-10, 10], "nice": false, "zero": false}, "axis": {"values": [-10, -5, 0, 5, 10], "labels": false, "title": null}},
            "y": {"field": "y", "type": "quantitative", "scale": {"domain": [-0.4, 0.4], "nice": false}, "axis": {"values": [-0.4, -0.2, 0, 0.2, 0.4], "format": ".1f", "title": "D(ω)"}},
            "color": {"field": "lz", "type": "nominal", "sort": null, "scale": {"domain": ["+1", "0", "−1"], "range": ["#0000ff", "#008000", "#ff0000"]}, "legend": null},
            "strokeDash": {"field": "lz", "type": "nominal", "sort": null, "scale": {"domain": ["+1", "0", "−1"], "range": [[1, 0], [5.5, 2.5], [1.6, 2.6]]}, "legend": null},
            "detail": {"field": "s"}
          }
        },
        {"mark": {"type": "rule", "color": "#000000", "strokeWidth": 1.4}, "encoding": {"y": {"datum": 0}}},
        {"mark": {"type": "text", "fontSize": 24, "fontStyle": "italic", "align": "left", "baseline": "alphabetic", "color": "#222222"}, "encoding": {"x": {"datum": -9.63}, "y": {"datum": 0.31}, "text": {"value": "n"}}},
        {"mark": {"type": "text", "fontSize": 24, "align": "left", "baseline": "alphabetic", "dx": 21, "color": "#222222"}, "encoding": {"x": {"datum": -9.63}, "y": {"datum": 0.31}, "text": {"field": "eq"}}},
        {"mark": {"type": "text", "fontSize": 33, "align": "left", "baseline": "alphabetic"}, "encoding": {"x": {"datum": -9.8}, "y": {"datum": 0.178}, "text": {"field": "phase"}, "fill": {"field": "phase", "type": "nominal", "scale": {"domain": ["MM-I", "MM-II", "MM-III"], "range": ["#ff7f0e", "#ea2a1e", "#107010"]}, "legend": null}}}
      ]
    },
    {
      "width": 398, "height": 180,
      "data": {"name": "notes"},
      "transform": [{"filter": "datum.p == 4"}],
      "layer": [
        {"mark": {"type": "rule", "color": "#555555", "strokeWidth": 1.3}, "encoding": {"x": {"datum": 0}}},
        {
          "data": {"name": "curves"},
          "transform": [{"filter": "datum.p == 4"}],
          "mark": {"type": "line", "strokeWidth": 1.7, "interpolate": "monotone", "clip": true},
          "encoding": {
            "x": {"field": "x", "type": "quantitative", "scale": {"domain": [-10, 10], "nice": false, "zero": false}, "axis": {"values": [-10, -5, 0, 5, 10], "format": "d", "title": "ω"}},
            "y": {"field": "y", "type": "quantitative", "scale": {"domain": [-0.4, 0.4], "nice": false}, "axis": {"values": [-0.4, -0.2, 0, 0.2, 0.4], "labels": false, "title": null}},
            "color": {"field": "lz", "type": "nominal", "sort": null, "scale": {"domain": ["+1", "0", "−1"], "range": ["#0000ff", "#008000", "#ff0000"]}, "legend": null},
            "strokeDash": {"field": "lz", "type": "nominal", "sort": null, "scale": {"domain": ["+1", "0", "−1"], "range": [[1, 0], [5.5, 2.5], [1.6, 2.6]]}, "legend": null},
            "detail": {"field": "s"}
          }
        },
        {"mark": {"type": "rule", "color": "#000000", "strokeWidth": 1.4}, "encoding": {"y": {"datum": 0}}},
        {"mark": {"type": "text", "fontSize": 24, "fontStyle": "italic", "align": "left", "baseline": "alphabetic", "color": "#222222"}, "encoding": {"x": {"datum": -9.63}, "y": {"datum": 0.31}, "text": {"value": "n"}}},
        {"mark": {"type": "text", "fontSize": 24, "align": "left", "baseline": "alphabetic", "dx": 21, "color": "#222222"}, "encoding": {"x": {"datum": -9.63}, "y": {"datum": 0.31}, "text": {"field": "eq"}}},
        {"mark": {"type": "text", "fontSize": 33, "align": "left", "baseline": "alphabetic"}, "encoding": {"x": {"datum": -9.8}, "y": {"datum": 0.178}, "text": {"field": "phase"}, "fill": {"field": "phase", "type": "nominal", "scale": {"domain": ["MM-I", "MM-II", "MM-III"], "range": ["#ff7f0e", "#ea2a1e", "#107010"]}, "legend": null}}}
      ]
    },
    {
      "width": 398, "height": 180,
      "data": {"name": "notes"},
      "transform": [{"filter": "datum.p == 5"}],
      "layer": [
        {"mark": {"type": "rule", "color": "#555555", "strokeWidth": 1.3}, "encoding": {"x": {"datum": 0}}},
        {
          "data": {"name": "curves"},
          "transform": [{"filter": "datum.p == 5"}],
          "mark": {"type": "line", "strokeWidth": 1.7, "interpolate": "monotone", "clip": true},
          "encoding": {
            "x": {"field": "x", "type": "quantitative", "scale": {"domain": [-10, 10], "nice": false, "zero": false}, "axis": {"values": [-10, -5, 0, 5, 10], "format": "d", "title": "ω"}},
            "y": {"field": "y", "type": "quantitative", "scale": {"domain": [-0.4, 0.4], "nice": false}, "axis": {"values": [-0.4, -0.2, 0, 0.2, 0.4], "format": ".1f", "title": "D(ω)"}},
            "color": {"field": "lz", "type": "nominal", "sort": null, "scale": {"domain": ["+1", "0", "−1"], "range": ["#0000ff", "#008000", "#ff0000"]}, "legend": null},
            "strokeDash": {"field": "lz", "type": "nominal", "sort": null, "scale": {"domain": ["+1", "0", "−1"], "range": [[1, 0], [5.5, 2.5], [1.6, 2.6]]}, "legend": null},
            "detail": {"field": "s"}
          }
        },
        {"mark": {"type": "rule", "color": "#000000", "strokeWidth": 1.4}, "encoding": {"y": {"datum": 0}}},
        {"mark": {"type": "text", "fontSize": 24, "fontStyle": "italic", "align": "left", "baseline": "alphabetic", "color": "#222222"}, "encoding": {"x": {"datum": -9.63}, "y": {"datum": 0.31}, "text": {"value": "n"}}},
        {"mark": {"type": "text", "fontSize": 24, "align": "left", "baseline": "alphabetic", "dx": 21, "color": "#222222"}, "encoding": {"x": {"datum": -9.63}, "y": {"datum": 0.31}, "text": {"field": "eq"}}},
        {"mark": {"type": "text", "fontSize": 33, "align": "left", "baseline": "alphabetic"}, "encoding": {"x": {"datum": -9.8}, "y": {"datum": 0.178}, "text": {"field": "phase"}, "fill": {"field": "phase", "type": "nominal", "scale": {"domain": ["MM-I", "MM-II", "MM-III"], "range": ["#ff7f0e", "#ea2a1e", "#107010"]}, "legend": null}}}
      ]
    }
  ]
}
